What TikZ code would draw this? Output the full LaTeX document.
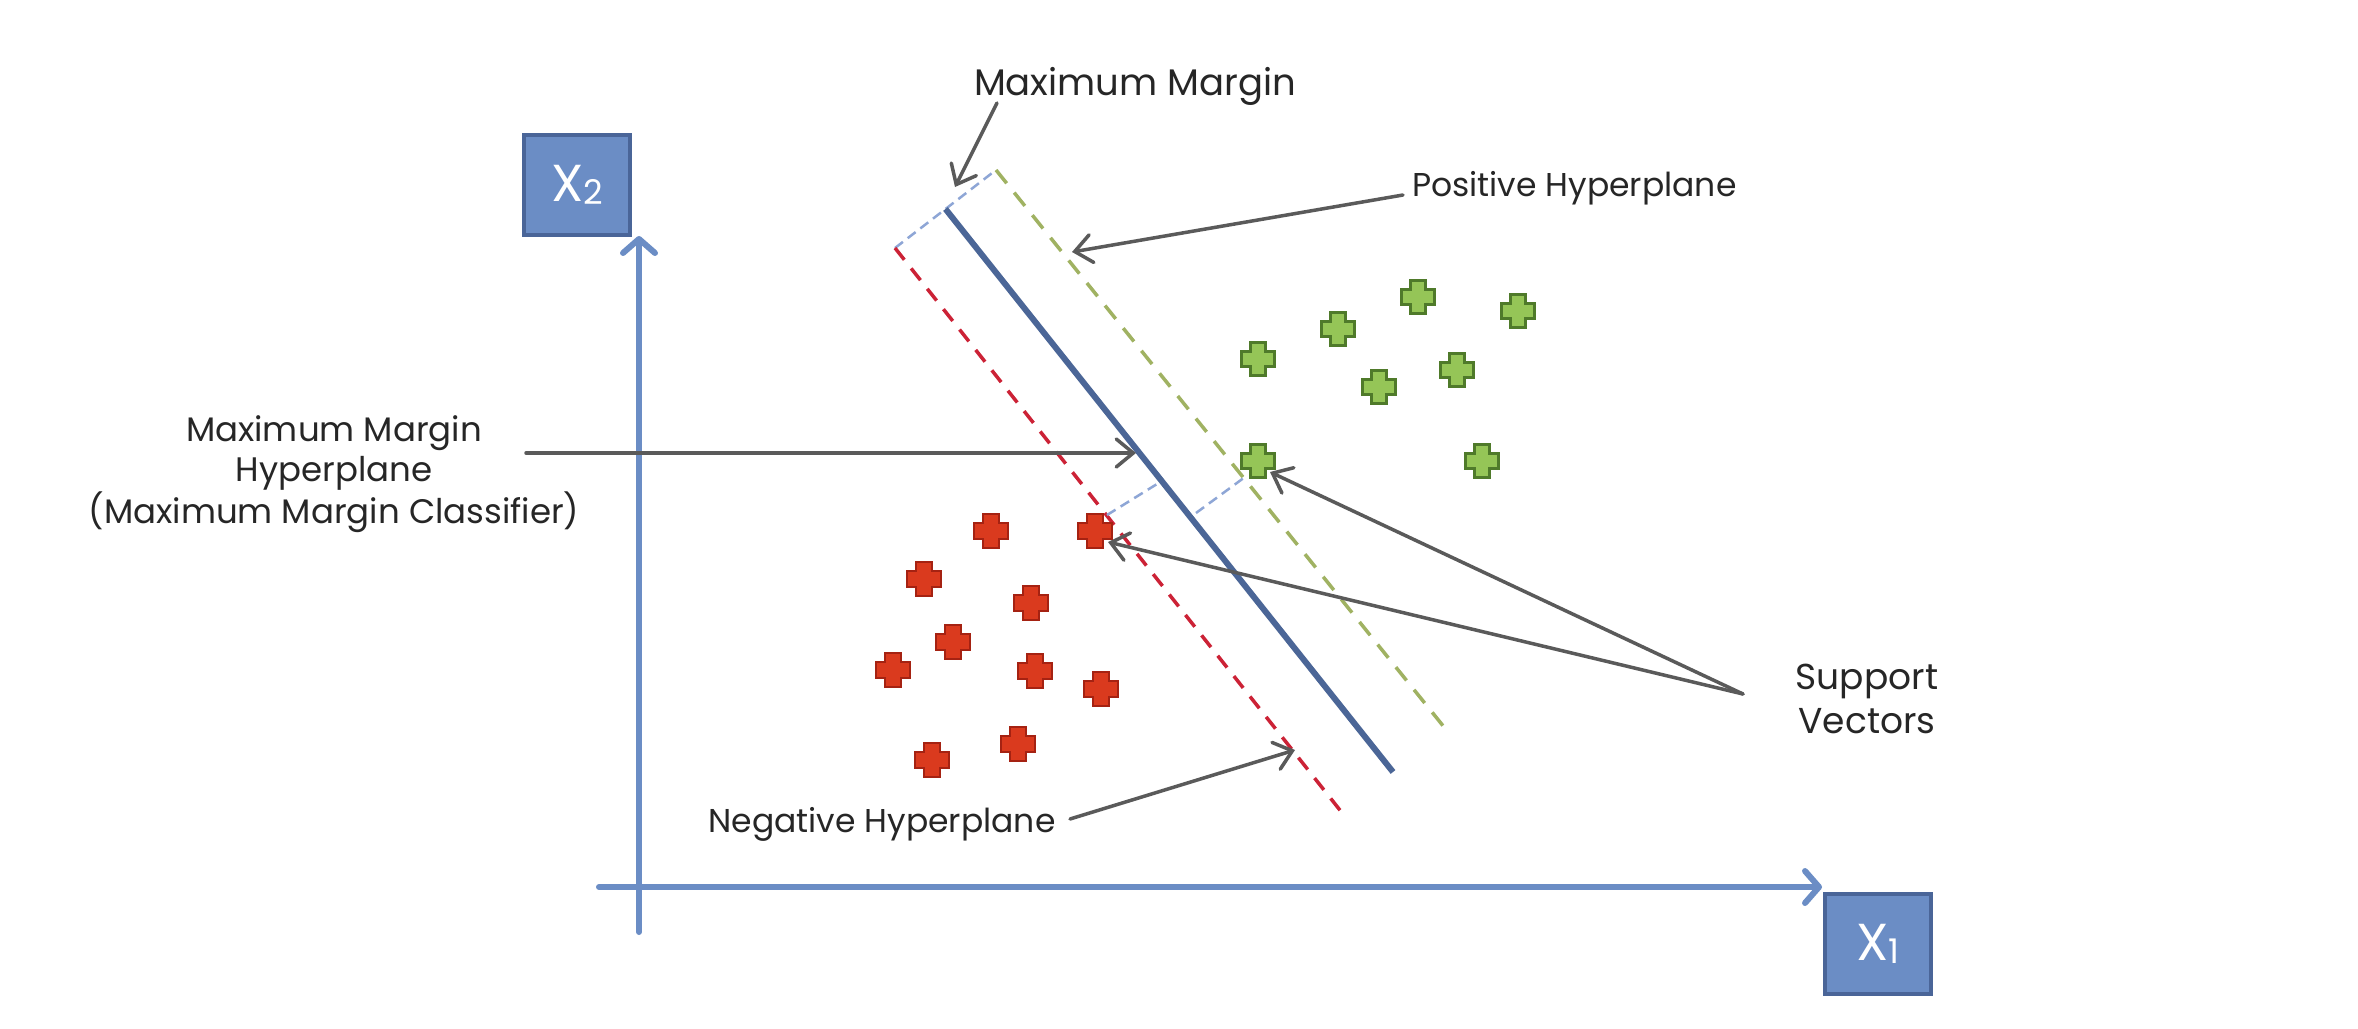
\documentclass[tikz,border=0pt]{standalone}
\usepackage{fontspec}
\setmainfont{Poppins}
\usetikzlibrary{arrows.meta}
\definecolor{axisblue}{HTML}{6B8DC5}
\definecolor{boxborder}{HTML}{4A6598}
\definecolor{hyperblue}{HTML}{4B6697}
\definecolor{negred}{HTML}{CC2236}
\definecolor{posgreen}{HTML}{A0B262}
\definecolor{marginblue}{HTML}{8EA6D6}
\definecolor{arrowgray}{HTML}{5A5A5A}
\definecolor{gfill}{HTML}{95C557}
\definecolor{gline}{HTML}{4F7A2A}
\definecolor{rfill}{HTML}{DA3A1E}
\definecolor{rline}{HTML}{A52212}
\definecolor{textdark}{HTML}{262626}
\begin{document}
\begin{tikzpicture}[x=1pt,y=-1pt,
  axisbox/.style={draw=boxborder, line width=4pt, fill=axisblue, text=white,
    minimum width=106pt, minimum height=100pt, inner sep=0pt,
    font=\fontsize{52}{52}\selectfont},
  axisline/.style={draw=axisblue, line width=6pt, line cap=round,
    -{Straight Barb[length=14pt,width=32pt,line cap=round,line join=round]}},
  annot/.style={draw=arrowgray, line width=3.5pt, line cap=round,
    -{Straight Barb[length=17pt,width=28pt,line cap=round]}},
  lbl/.style={text=textdark, inner sep=0pt, font=\fontsize{34}{40}\selectfont},
  negline/.style={draw=negred, line width=3.5pt, dash pattern=on 15pt off 11pt},
  posline/.style={draw=posgreen, line width=3.5pt, dash pattern=on 17pt off 12pt},
  sepline/.style={draw=hyperblue, line width=6pt},
  marginline/.style={draw=marginblue, line width=2.5pt, dash pattern=on 10pt off 6pt},
  pics/gplus/.style={code={
    \draw[fill=gfill, draw=gline, line width=2.5pt, line join=miter]
      (-7.5,-16.5) -- (7.5,-16.5) -- (7.5,-7.5) -- (16.5,-7.5) -- (16.5,7.5) -- (7.5,7.5)
      -- (7.5,16.5) -- (-7.5,16.5) -- (-7.5,7.5) -- (-16.5,7.5) -- (-16.5,-7.5) -- (-7.5,-7.5) -- cycle;}},
  pics/rplus/.style={code={
    \draw[fill=rfill, draw=rline, line width=1.5pt, line join=miter]
      (-8,-17) -- (8,-17) -- (8,-8) -- (17,-8) -- (17,8) -- (8,8)
      -- (8,17) -- (-8,17) -- (-8,8) -- (-17,8) -- (-17,-8) -- (-8,-8) -- cycle;}}
]
\useasboundingbox[fill=white] (0,0) rectangle (2358,1028);

% axis boxes
\node[axisbox] (x2box) at (577,185) {X\raisebox{-3pt}{\fontsize{34}{34}\selectfont 2}};
\node[axisbox] (x1box) at (1878,944) {X\raisebox{-3pt}{\fontsize{34}{34}\selectfont 1}};

% axes
\coordinate (ybot) at (639,932);
\coordinate (ytop) at (639,236);
\coordinate (xleft) at (599,887);
\coordinate (xright) at (1822,887);
\draw[axisline] (ybot) -- (ytop);
\draw[axisline] (xleft) -- (xright);

% hyperplanes
\coordinate (negtop) at (895,248);
\coordinate (negbot) at (1343,814);
\coordinate (postop) at (996,170);
\coordinate (posbot) at (1448,732);
\coordinate (septop) at (945.5,209);
\coordinate (sepbot) at (1393,772);
\draw[marginline] (negtop) -- (postop);
\draw[negline] (negtop) -- (negbot);
\draw[posline] (postop) -- (posbot);
\draw[sepline] (septop) -- (sepbot);

% margin markers between support vectors
\coordinate (m1a) at (1107,515);
\coordinate (m1b) at (1157,484);
\coordinate (m2a) at (1196,513);
\coordinate (m2b) at (1245,477);
\draw[marginline] (m1a) -- (m1b);
\draw[marginline] (m2a) -- (m2b);

% positive points
\foreach \p in {(1258,359),(1338,329),(1418,297),(1518,311),(1379,387),(1457,370),(1482,461),(1258,461)}
  \pic at \p {gplus};
% negative points
\foreach \p in {(991,531),(1095,531),(924,579),(1031,603),(953,642),(893,670),(1035,671),(1101,689),(1018,744),(932,760)}
  \pic at \p {rplus};

% labels
\node[lbl, font=\fontsize{37}{44}\selectfont] (mmtitle) at (1135,86) {Maximum Margin};
\node[lbl, anchor=west, font=\fontsize{33}{40}\selectfont] (poslbl) at (1412,188) {Positive Hyperplane};
\node[lbl, align=center] (mmhlbl) at (334,474) {Maximum Margin\\Hyperplane\\(Maximum Margin Classifier)};
\node[lbl, font=\fontsize{33}{40}\selectfont] (neglbl) at (882,824) {Negative Hyperplane};
\node[lbl, align=center, font=\fontsize{36}{44}\selectfont] (svlbl) at (1867,699) {Support\\Vectors};

% annotation arrows
\coordinate (mmtail) at (997,103);
\coordinate (mmtip) at (955,187);
\coordinate (postail) at (1403,195);
\coordinate (postip) at (1072,252);
\coordinate (mmhtail) at (526,453);
\coordinate (mmhtip) at (1136,453);
\coordinate (negtail) at (1070,819);
\coordinate (negtip) at (1295,750);
\coordinate (svtail) at (1743,694);
\coordinate (svgtip) at (1270,472);
\coordinate (svrtip) at (1108,542);
\draw[annot] (mmtail) -- (mmtip);
\draw[annot] (postail) -- (postip);
\draw[annot] (mmhtail) -- (mmhtip);
\draw[annot] (negtail) -- (negtip);
\draw[annot] (svtail) -- (svgtip);
\draw[annot] (svtail) -- (svrtip);
\end{tikzpicture}
\end{document}
